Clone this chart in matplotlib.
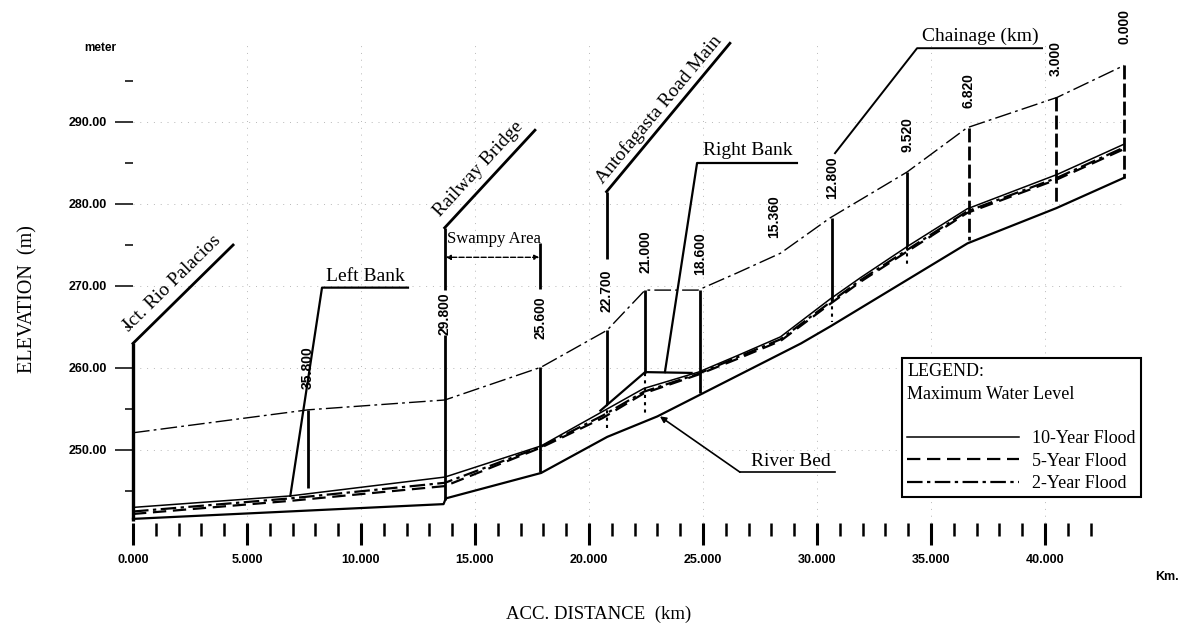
import numpy as np
import matplotlib.pyplot as plt

# ------------------------------------------------------------
# 1. Values
# ------------------------------------------------------------

TOTAL_KM = 43.47          # acc. distance of chainage 0.000

# river bed
bed_km = [0.0, 13.62, 13.72, 17.9, 20.8, 23.0, 29.3, 30.6, 36.6, 40.5, 43.47]
bed_el = [241.6, 243.4, 244.1, 247.2, 251.6, 254.1, 263.0, 265.1, 275.2, 279.5, 283.2]

# maximum water levels
wl_km = [0.0, 6.9, 13.68, 17.9, 20.6, 22.4, 24.8, 26.5, 28.4, 30.57, 31.9, 33.95, 36.58, 40.53, 43.47]
wl10_el = [243.0, 244.4, 246.7, 250.5, 254.7, 257.5, 259.5, 261.5, 263.8, 268.4, 271.0, 274.8, 279.4, 283.6, 287.3]
wl5_el = [242.2, 243.8, 245.6, 250.3, 253.9, 256.9, 259.2, 261.1, 263.3, 267.8, 270.5, 274.2, 278.9, 283.0, 286.7]
wl2_el = [242.5, 244.1, 246.0, 250.4, 254.2, 257.1, 259.3, 261.3, 263.5, 268.0, 270.7, 274.4, 279.1, 283.2, 286.9]

# right bank crest near Antofagasta road
rb_km = [20.5, 22.46, 24.5]
rb_el = [254.8, 259.5, 259.4]

# top of bank line
top_km = [0.0, 7.68, 13.68, 17.9, 20.79, 22.46, 24.78, 26.5, 28.4, 30.57, 33.95, 36.58, 40.53, 43.47]
top_el = [252.1, 254.9, 256.1, 260.1, 264.6, 269.5, 269.5, 271.6, 274.0, 278.3, 283.9, 289.3, 293.0, 296.9]

# cross sections (chainage, km from the downstream end)
sec_labels = ["35.800", "29.800", "25.600", "22.700", "21.000", "18.600",
              "15.360", "12.800", "9.520", "6.820", "3.000", "0.000"]
sec_solid = [[(254.9, 245.4)],
             [(277.1, 269.5), (264.0, 243.9)],
             [(275.2, 269.6), (260.1, 247.3)],
             [(281.5, 273.3), (264.6, 255.7)],
             [(269.5, 259.4)],
             [(269.5, 257.0)],
             [],
             [(278.3, 268.4)],
             [(283.9, 274.9)],
             [], [], []]
sec_dashed = [[], [], [], [], [], [], [], [], [],
              [(289.3, 275.6)], [(293.0, 279.9)], [(296.9, 283.2)]]
sec_dotted = [[], [], [], [(255.7, 252.5)], [(259.4, 254.5)], [], [],
              [(268.4, 265.6)], [(274.9, 272.3)], [], [], []]
sec_label_el = [260.0, 266.6, 266.1, 269.4, 274.2, 273.9, 278.4, 283.2, 288.5, 293.8, 297.8, 301.6]

y_major = np.arange(250, 291, 10)
y_minor = np.arange(245, 296, 10)
x_major = np.arange(0, 41, 5)
x_minor = np.arange(0, 43, 1)

# ------------------------------------------------------------
# 2. Figure: axes fill the sheet, scaled like the drawing
# ------------------------------------------------------------

W, H = 1190, 627
PX_X0, PX_PER_KM = 133, 22.8
PX_Y240, PX_PER_M = 532, 8.2
AXIS_EL = 241.1

SERIF = "Liberation Serif"
SANS = "Liberation Sans"

fig = plt.figure(figsize=(W / 100, H / 100), dpi=100)
fig.patch.set_facecolor("white")
ax = fig.add_axes([0, 0, 1, 1])
ax.set_xlim(-PX_X0 / PX_PER_KM, (W - PX_X0) / PX_PER_KM)
ax.set_ylim(240 - (H - PX_Y240) / PX_PER_M, 240 + PX_Y240 / PX_PER_M)

for s in ax.spines.values():
    s.set_visible(False)
ax.spines["left"].set_position(("data", 0))
ax.spines["bottom"].set_position(("data", AXIS_EL))

ax.set_xticks(x_major)
ax.set_xticks(x_minor, minor=True)
ax.set_xticklabels([f"{v:.3f}" for v in x_major], fontfamily=SANS, fontweight="bold", fontsize=9)
ax.set_yticks(y_major)
ax.set_yticks(y_minor, minor=True)
ax.set_yticklabels([f"{v:.2f}" for v in y_major], fontfamily=SANS, fontweight="bold", fontsize=9)
ax.tick_params(axis="x", which="major", direction="out", length=16, width=2.2, pad=6.5)
ax.tick_params(axis="x", which="minor", direction="out", length=9, width=1.8)
ax.tick_params(axis="y", which="major", direction="out", length=13, width=1.1, pad=5.5)
ax.tick_params(axis="y", which="minor", direction="out", length=6, width=1.1)

# faint dotted sheet grid
ax.hlines(y_major, 0, TOTAL_KM, colors="#b8b8b8", linestyles=(0, (1, 6)), lw=0.7, zorder=0)
ax.vlines(x_major[1:], AXIS_EL, 300, colors="#b8b8b8", linestyles=(0, (1, 6)), lw=0.7, zorder=0)

# ------------------------------------------------------------
# 3. Profile lines
# ------------------------------------------------------------

ax.plot(top_km, top_el, color="k", lw=1.0, ls=(0, (12, 3, 2, 3)))

sec_km = [TOTAL_KM - float(c) for c in sec_labels]
for km, solid, dashed, dotted in zip(sec_km, sec_solid, sec_dashed, sec_dotted):
    for a, b in solid:
        ax.plot([km, km], [a, b], color="k", lw=2.0, solid_capstyle="butt")
    for a, b in dashed:
        ax.plot([km, km], [a, b], color="k", lw=2.0, ls=(0, (5, 1.5)))
    for a, b in dotted:
        ax.plot([km, km], [a, b], color="k", lw=1.5, ls=(0, (1.5, 2)))

for km, lab, el in zip(sec_km, sec_labels, sec_label_el):
    ax.text(km, el, lab, rotation=90, ha="center", va="center",
            fontfamily=SANS, fontweight="bold", fontsize=10)

ax.plot(bed_km, bed_el, color="k", lw=1.6)
l10, = ax.plot(wl_km, wl10_el, color="k", lw=1.1, label="10-Year Flood")
l5, = ax.plot(wl_km, wl5_el, color="k", lw=1.6, ls=(0, (6, 3)), label="5-Year Flood")
l2, = ax.plot(wl_km, wl2_el, color="k", lw=1.6, ls=(0, (7, 2, 1.5, 2)), label="2-Year Flood")
ax.plot(rb_km, rb_el, color="k", lw=1.6)

# ------------------------------------------------------------
# 4. Leaders and notes
# ------------------------------------------------------------


def along(p0, p1, text, off):
    (x0, y0), (x1, y1) = ax.transData.transform([p0, p1])
    ang = np.degrees(np.arctan2(y1 - y0, x1 - x0))
    nx, ny = -np.sin(np.radians(ang)), np.cos(np.radians(ang))
    ax.annotate(text, ((p0[0] + p1[0]) / 2, (p0[1] + p1[1]) / 2),
                xytext=(nx * off, ny * off), textcoords="offset points",
                rotation=ang, rotation_mode="anchor", ha="center", va="center",
                fontfamily=SERIF, fontsize=14)


# Jct. Rio Palacios (x = 0)
ax.plot([0, 0], [bed_el[0] - 0.3, 263.0], color="k", lw=2.4, solid_capstyle="butt")
ax.plot([0, 4.39], [263.0, 275.0], color="k", lw=2.0)
along((0, 263.0), (4.39, 275.0), "Jct. Rio Palacios", 11)

ax.plot([sec_km[1], 17.63], [277.1, 289.0], color="k", lw=2.0)
along((sec_km[1], 277.1), (17.63, 289.0), "Railway Bridge", 11)

ax.plot([sec_km[3], 26.18], [281.5, 299.6], color="k", lw=2.0)
along((sec_km[3], 281.5), (26.18, 299.6), "Antofagasta Road Main", 9)

ax.plot([6.9, 8.29, 12.06], [244.4, 269.8, 269.8], color="k", lw=1.6)
ax.text(10.18, 271.2, "Left Bank", ha="center", va="center", fontfamily=SERIF, fontsize=14)

ax.plot([23.33, 24.74, 29.12], [259.5, 285.0, 285.0], color="k", lw=1.6)
ax.text(26.95, 286.5, "Right Bank", ha="center", va="center", fontfamily=SERIF, fontsize=14)

ax.annotate("", xy=(23.11, 254.1), xytext=(26.62, 247.3),
            arrowprops=dict(arrowstyle="-|>", color="k", lw=1.2, mutation_scale=9,
                            shrinkA=0, shrinkB=0))
ax.plot([26.62, 30.8], [247.3, 247.3], color="k", lw=1.2)
ax.text(28.85, 248.6, "River Bed", ha="center", va="center", fontfamily=SERIF, fontsize=14)

ax.plot([30.79, 34.39, 39.87], [286.2, 299.0, 299.0], color="k", lw=1.4)
ax.text(37.15, 300.4, "Chainage (km)", ha="center", va="center", fontfamily=SERIF, fontsize=14)

ax.annotate("", xy=(sec_km[1] + 0.05, 273.5), xytext=(sec_km[2] - 0.05, 273.5),
            arrowprops=dict(arrowstyle="<|-|>", color="k", lw=1.0, ls="--",
                            mutation_scale=7, shrinkA=0, shrinkB=0))
ax.text(13.77, 275.7, "Swampy Area", ha="left", va="center", fontfamily=SERIF, fontsize=12)

ax.text(-1.45, 299.0, "meter", ha="center", va="center", fontfamily=SANS, fontweight="bold", fontsize=8.5)
ax.text(45.35, 234.5, "Km.", ha="center", va="center", fontfamily=SANS, fontweight="bold", fontsize=9)
ax.text(-4.61, 268.4, "ELEVATION  (m)", rotation=90, ha="center", va="center",
        fontfamily=SERIF, fontsize=14.5)
ax.text(20.44, 229.9, "ACC. DISTANCE  (km)", ha="center", va="center",
        fontfamily=SERIF, fontsize=13.5)

# ------------------------------------------------------------
# 5. Legend box
# ------------------------------------------------------------

leg = ax.legend(handles=[l10, l5, l2], title="LEGEND:\nMaximum Water Level\n",
                loc="upper left", bbox_to_anchor=(902 / W, 1 - 358 / H),
                bbox_transform=fig.transFigure, borderaxespad=0,
                prop={"family": SERIF, "size": 13},
                title_fontproperties={"family": SERIF, "size": 13},
                alignment="left", frameon=True, fancybox=False, framealpha=1,
                edgecolor="k", handlelength=6.2, handletextpad=0.7,
                borderpad=0.3, labelspacing=0.3)
leg.get_frame().set_linewidth(1.5)
leg.get_title().set_linespacing(1.4)

fig.savefig("out.png", dpi=100, facecolor="white")
